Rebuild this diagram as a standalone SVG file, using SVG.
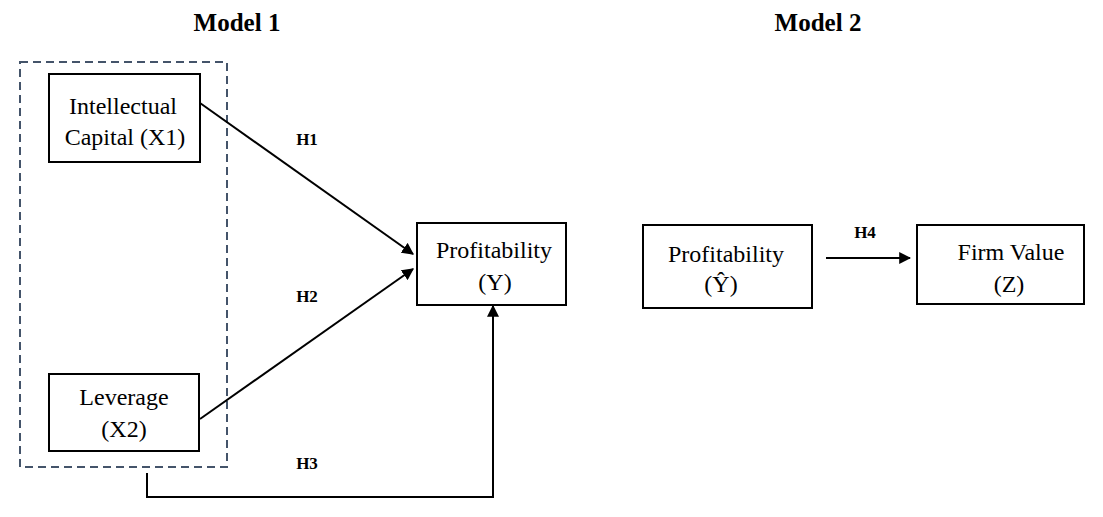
<svg xmlns="http://www.w3.org/2000/svg" width="1103" height="517" viewBox="0 0 1103 517">
<defs>
<style>
.box{fill:#fff;stroke:#000;stroke-width:2}
.t{font-family:"Liberation Serif","Times New Roman",serif;font-size:24px;fill:#000;text-anchor:middle}
.title{font-family:"Liberation Serif","Times New Roman",serif;font-size:25px;font-weight:bold;fill:#000;text-anchor:middle}
.h{font-family:"Liberation Serif","Times New Roman",serif;font-size:17px;font-weight:bold;fill:#000;text-anchor:middle}
.c{fill:none;stroke:#000;stroke-width:2}
</style>
<marker id="ah" viewBox="0 0 10 10" refX="9" refY="5" markerWidth="6" markerHeight="6" orient="auto" markerUnits="strokeWidth">
<path d="M0,0 L10,5 L0,10 z" fill="#000"/>
</marker>
</defs>
<rect width="1103" height="517" fill="#fff"/>
<text class="title" x="237" y="31">Model 1</text>
<text class="title" x="818" y="31">Model 2</text>
<rect id="group" x="20" y="62" width="207" height="405" fill="none" stroke="#44546a" stroke-width="2" stroke-dasharray="8,5"/>
<g id="connectors">
<line class="c" x1="200" y1="103" x2="413" y2="254" marker-end="url(#ah)"/>
<line class="c" x1="200" y1="419" x2="413" y2="269" marker-end="url(#ah)"/>
<polyline class="c" points="147,473 147,497 493,497 493,306" marker-end="url(#ah)"/>
<line class="c" x1="826" y1="258" x2="910" y2="258" marker-end="url(#ah)"/>
<text class="h" x="307" y="145">H1</text>
<text class="h" x="307" y="302">H2</text>
<text class="h" x="307" y="469">H3</text>
<text class="h" x="865" y="238">H4</text>
</g>
<g id="ic">
<rect class="box" x="49" y="74" width="151" height="88"/>
<text class="t" x="123" y="114">Intellectual</text>
<text class="t" x="125" y="145">Capital (X1)</text>
</g>
<g id="lev">
<rect class="box" x="49" y="374" width="150" height="77"/>
<text class="t" x="124" y="405">Leverage</text>
<text class="t" x="124" y="437">(X2)</text>
</g>
<g id="profY">
<rect class="box" x="417" y="223" width="149" height="82"/>
<text class="t" x="494" y="258">Profitability</text>
<text class="t" x="495" y="290">(Y)</text>
</g>
<g id="profYhat">
<rect class="box" x="643" y="225" width="169" height="83"/>
<text class="t" x="726" y="262">Profitability</text>
<text class="t" x="721" y="292">(Ŷ)</text>
</g>
<g id="firm">
<rect class="box" x="917" y="225" width="167" height="79"/>
<text class="t" x="1011" y="260">Firm Value</text>
<text class="t" x="1009" y="292">(Z)</text>
</g>
</svg>
